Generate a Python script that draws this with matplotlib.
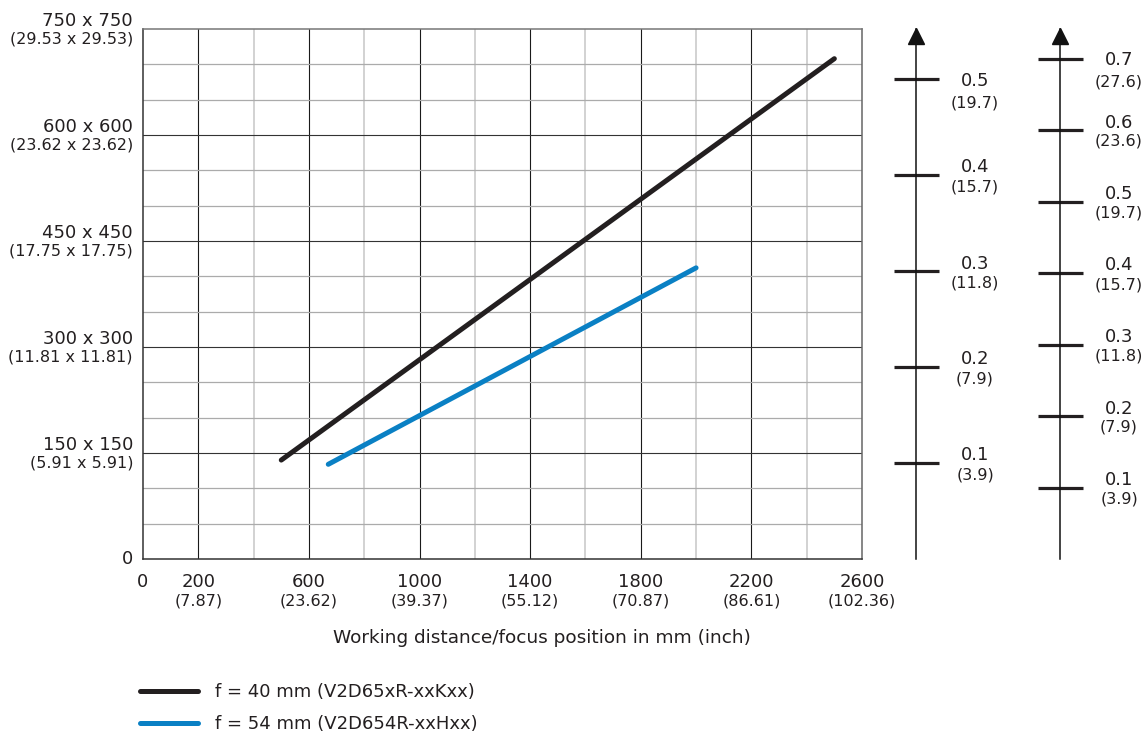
import matplotlib
matplotlib.use("Agg")
import matplotlib.pyplot as plt

# field of view (mm) against working distance (mm)
dist_40 = [500, 2500]
fov_40 = [140, 708]
dist_54 = [670, 2000]
fov_54 = [134, 412]

series_labels = ["f = 40 mm (V2D65xR-xxKxx)", "f = 54 mm (V2D654R-xxHxx)"]
series_colors = ["#231f20", "#0a80c4"]

x_ticks = [0, 200, 600, 1000, 1400, 1800, 2200, 2600]
x_inch = ["", "(7.87)", "(23.62)", "(39.37)", "(55.12)", "(70.87)", "(86.61)", "(102.36)"]
y_ticks = [0, 150, 300, 450, 600, 750]
y_mm = ["0", "150 x 150", "300 x 300", "450 x 450", "600 x 600", "750 x 750"]
y_inch = ["", "(5.91 x 5.91)", "(11.81 x 11.81)", "(17.75 x 17.75)",
          "(23.62 x 23.62)", "(29.53 x 29.53)"]

# the two resolution scales on the right (mm, inch in brackets)
scale_a = [0.1, 0.2, 0.3, 0.4, 0.5]
scale_a_inch = ["(3.9)", "(7.9)", "(11.8)", "(15.7)", "(19.7)"]
scale_b = [0.1, 0.2, 0.3, 0.4, 0.5, 0.6, 0.7]
scale_b_inch = ["(3.9)", "(7.9)", "(11.8)", "(15.7)", "(19.7)", "(23.6)", "(27.6)"]

xlabel = "Working distance/focus position in mm (inch)"

W, H = 1147, 736
TXT = "#231f20"
BIG = 13
SMALL = 11.5
PT = 0.72  # points per pixel at dpi 100

plt.rcParams["font.family"] = ["DejaVu Sans"]

fig = plt.figure(figsize=(W / 100, H / 100), dpi=100)
ax_bottom = (H - 559) / H
ax_height = (559 - 29) / H
ax = fig.add_axes([143 / W, ax_bottom, (862 - 143) / W, ax_height])

ax.set_xlim(0, 2600)
ax.set_ylim(0, 750)
ax.set_xticks([200, 600, 1000, 1400, 1800, 2200])
ax.set_xticks([400, 800, 1200, 1600, 2000, 2400], minor=True)
ax.set_yticks([150, 300, 450, 600])
ax.set_yticks([50, 100, 200, 250, 350, 400, 500, 550, 650, 700], minor=True)
ax.tick_params(which="both", length=0, labelbottom=False, labelleft=False)
ax.xaxis.grid(True, which="major", color="#1a1a1a", lw=0.8)
ax.xaxis.grid(True, which="minor", color="#c6c6c6", lw=1.1)
ax.yaxis.grid(True, which="major", color="#333333", lw=0.8)
ax.yaxis.grid(True, which="minor", color="#ababab", lw=0.9)
ax.set_axisbelow(True)
for side, col in [("left", "#333333"), ("bottom", "#333333"), ("top", "#777777"), ("right", "#666666")]:
    ax.spines[side].set_color(col)
    ax.spines[side].set_linewidth(1.1)

l40, = ax.plot(dist_40, fov_40, color=series_colors[0], lw=3.6, solid_capstyle="round")
l54, = ax.plot(dist_54, fov_54, color=series_colors[1], lw=3.6, solid_capstyle="round")

# y labels: mm above the grid line, inch below
for v, a, b in zip(y_ticks, y_mm, y_inch):
    if not b:
        ax.annotate(a, (0, v), xytext=(-10 * PT, -5 * PT), textcoords="offset points",
                    ha="right", va="baseline", fontsize=BIG, color=TXT, annotation_clip=False)
        continue
    ax.annotate(a, (0, v), xytext=(-10 * PT, 3 * PT), textcoords="offset points",
                ha="right", va="baseline", fontsize=BIG, color=TXT, annotation_clip=False)
    ax.annotate(b, (0, v), xytext=(-10 * PT, -14.5 * PT), textcoords="offset points",
                ha="right", va="baseline", fontsize=SMALL, color=TXT, annotation_clip=False)

# x labels
for v, b in zip(x_ticks, x_inch):
    ax.annotate(str(v), (v, 0), xytext=(0, -28 * PT), textcoords="offset points",
                ha="center", va="baseline", fontsize=BIG, color=TXT, annotation_clip=False)
    if b:
        ax.annotate(b, (v, 0), xytext=(0, -46 * PT), textcoords="offset points",
                    ha="center", va="baseline", fontsize=SMALL, color=TXT, annotation_clip=False)

fig.text(542 / W, (H - 643) / H, xlabel, ha="center", va="baseline", fontsize=13.3, color=TXT)


def side_scale(left_px, ticks, inch, top):
    sx = fig.add_axes([left_px / W, ax_bottom, 0.02, ax_height])
    sx.set_xlim(0, 1)
    sx.set_ylim(0, top)
    sx.patch.set_alpha(0)
    for s in ("top", "right", "bottom"):
        sx.spines[s].set_visible(False)
    sx.spines["left"].set_linewidth(1.1)
    sx.spines["left"].set_color("#111111")
    sx.set_xticks([])
    sx.set_yticks(ticks)
    sx.tick_params(axis="y", direction="inout", length=45 * PT, width=2.3,
                   color="#231f20", labelleft=False)
    sx.plot([0], [0.987], marker="^", ms=11, color="#111111",
            transform=sx.transAxes, clip_on=False)
    for i, (v, b) in enumerate(zip(ticks, inch)):
        last = i == len(ticks) - 1
        up = -6.5 if last else 2.5
        down = -28 if last else -16
        sx.annotate(f"{v:.1f}", (0, v), xytext=(59 * PT, up * PT), textcoords="offset points",
                    ha="center", va="baseline", fontsize=BIG, color=TXT, annotation_clip=False)
        sx.annotate(b, (0, v), xytext=(59 * PT, down * PT), textcoords="offset points",
                    ha="center", va="baseline", fontsize=SMALL, color=TXT, annotation_clip=False)
    return sx


side_scale(916, scale_a, scale_a_inch, 530 / 960)
side_scale(1060, scale_b, scale_b_inch, 530 / 715)

fig.legend([l40, l54], series_labels, loc="upper left",
           bbox_to_anchor=(140 / W, 1 - 683 / H), frameon=False, fontsize=BIG,
           borderpad=0, borderaxespad=0, handlelength=3.2, handletextpad=0.95,
           labelspacing=0.78, labelcolor=TXT)

fig.savefig("out.png", dpi=100)
